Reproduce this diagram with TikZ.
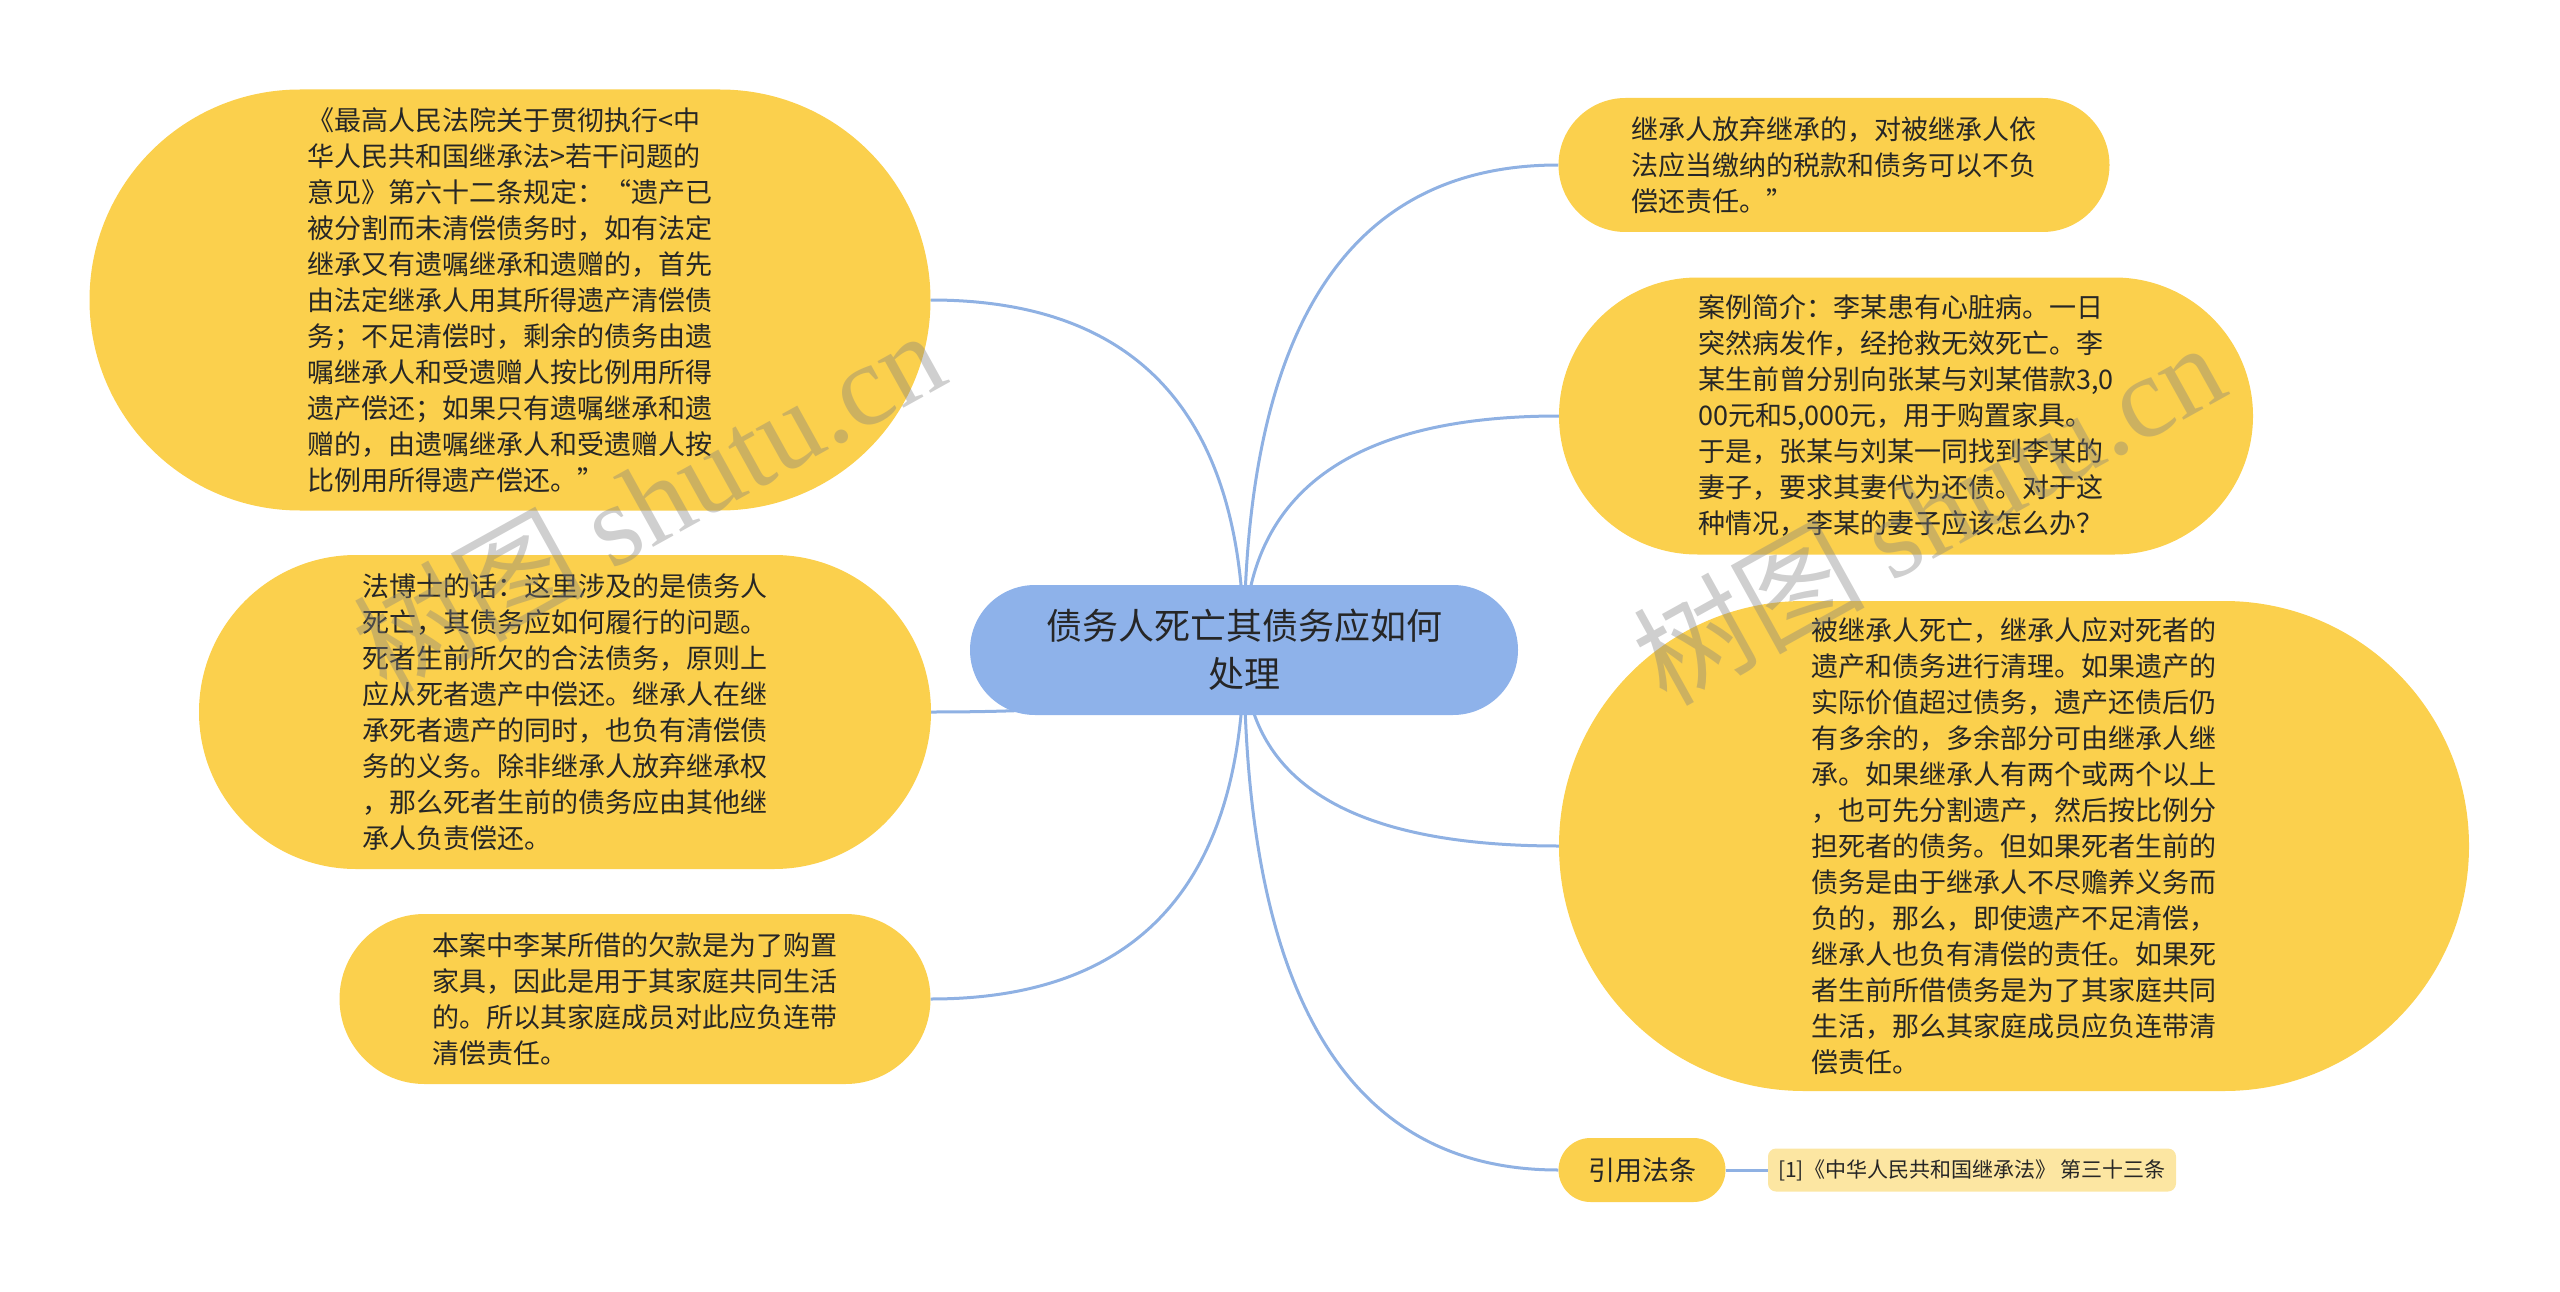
\documentclass[tikz,border=0pt]{standalone}
\usepackage{fontspec}
\setmainfont{Noto Sans CJK SC}
\newfontfamily\wmlatin{Liberation Serif}
\usetikzlibrary{shapes.misc,calc,backgrounds}
\definecolor{nodeyellow}{HTML}{FBD04D}
\definecolor{rootblue}{HTML}{8EB2EA}
\definecolor{linkblue}{HTML}{8FB1E3}
\definecolor{reffill}{HTML}{FCE6A2}
\definecolor{txt}{HTML}{262626}
\newcommand\mmlink[2]{%
  \draw[linkline] (#1) .. controls ($(#1)!0.6667!(#1 |- #2)$) and ($(#2)!0.6667!(#1 |- #2)$) .. (#2);}
\tikzset{
  linkline/.style={draw=linkblue, line width=3pt},
  topic/.style={rounded rectangle, fill=nodeyellow, inner sep=0pt, text=txt, align=left,
    font={\fontsize{27pt}{36pt}\selectfont}},
  roottopic/.style={rounded rectangle, fill=rootblue, inner sep=0pt, text=txt, align=center,
    font={\fontsize{36pt}{48pt}\selectfont}},
  refbox/.style={rectangle, rounded corners=8pt, fill=reffill, inner sep=0pt, text=txt,
    font={\fontsize{21pt}{26pt}\selectfont}},
  watermark/.style={text=gray, opacity=0.38, rotate=29, font={\fontsize{116pt}{120pt}\selectfont}}
}
\begin{document}
\begin{tikzpicture}[x=1pt,y=-1pt]
\useasboundingbox (0,0) rectangle (2560,1292);

% nodes
\node[roottopic, minimum width=548, minimum height=130] (root) at (1244,650)
  {债务人死亡其债务应如何\\处理};

\node[topic, minimum width=841, minimum height=421] (tl) at (510,300)
  {《最高人民法院关于贯彻执行<中\\华人民共和国继承法>若干问题的\\意见》第六十二条规定：“遗产已\\被分割而未清偿债务时，如有法定\\继承又有遗嘱继承和遗赠的，首先\\由法定继承人用其所得遗产清偿债\\务；不足清偿时，剩余的债务由遗\\嘱继承人和受遗赠人按比例用所得\\遗产偿还；如果只有遗嘱继承和遗\\赠的，由遗嘱继承人和受遗赠人按\\比例用所得遗产偿还。”};

\node[topic, minimum width=732, minimum height=314] (lm) at (565,712)
  {法博士的话：这里涉及的是债务人\\死亡，其债务应如何履行的问题。\\死者生前所欠的合法债务，原则上\\应从死者遗产中偿还。继承人在继\\承死者遗产的同时，也负有清偿债\\务的义务。除非继承人放弃继承权\\，那么死者生前的债务应由其他继\\承人负责偿还。};

\node[topic, minimum width=591, minimum height=170] (bl) at (635,999)
  {本案中李某所借的欠款是为了购置\\家具，因此是用于其家庭共同生活\\的。所以其家庭成员对此应负连带\\清偿责任。};

\node[topic, minimum width=551, minimum height=134] (tr) at (1834,165)
  {继承人放弃继承的，对被继承人依\\法应当缴纳的税款和债务可以不负\\偿还责任。”};

\node[topic, minimum width=694, minimum height=277] (rc) at (1906,416)
  {案例简介：李某患有心脏病。一日\\突然病发作，经抢救无效死亡。李\\某生前曾分别向张某与刘某借款3,0\\00元和5,000元，用于购置家具。\\于是，张某与刘某一同找到李某的\\妻子，要求其妻代为还债。对于这\\种情况，李某的妻子应该怎么办？};

\node[topic, minimum width=910, minimum height=490] (rb) at (2014,846)
  {被继承人死亡，继承人应对死者的\\遗产和债务进行清理。如果遗产的\\实际价值超过债务，遗产还债后仍\\有多余的，多余部分可由继承人继\\承。如果继承人有两个或两个以上\\，也可先分割遗产，然后按比例分\\担死者的债务。但如果死者生前的\\债务是由于继承人不尽赡养义务而\\负的，那么，即使遗产不足清偿，\\继承人也负有清偿的责任。如果死\\者生前所借债务是为了其家庭共同\\生活，那么其家庭成员应负连带清\\偿责任。};

\node[topic, minimum width=167, minimum height=64] (cite) at (1642,1170) {引用法条};

\node[refbox, minimum width=408, minimum height=43] (ref) at (1972,1170)
  {[1]《中华人民共和国继承法》 第三十三条};

% connectors (behind nodes)
\begin{scope}[on background layer]
  \mmlink{root.center}{tl.east}
  \mmlink{root.center}{lm.east}
  \mmlink{root.center}{bl.east}
  \mmlink{root.center}{tr.west}
  \mmlink{root.center}{rc.west}
  \mmlink{root.center}{rb.west}
  \mmlink{root.center}{cite.west}
  \draw[linkline] (cite.east) -- (ref.west);
\end{scope}

% watermarks
\node[watermark] (wm1) at (648,500) {树图 {\wmlatin shutu.cn}};
\node[watermark] (wm2) at (1928,512) {树图 {\wmlatin shutu.cn}};
\end{tikzpicture}
\end{document}
